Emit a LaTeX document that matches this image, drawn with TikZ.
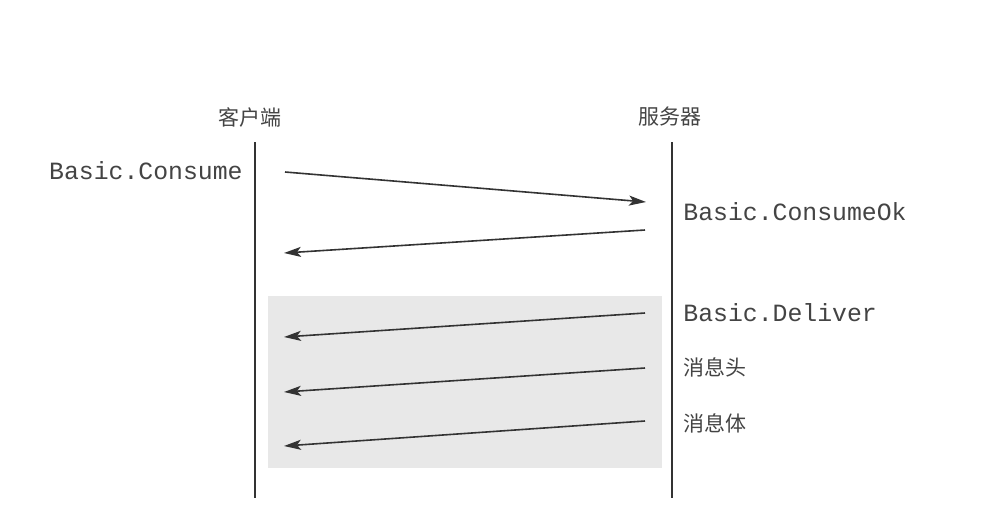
\documentclass[tikz,border=0pt]{standalone}
\usepackage{fontspec}
\setmonofont{Liberation Mono}
\newfontfamily\cjk{Noto Sans CJK SC}
\usetikzlibrary{arrows.meta}
\definecolor{linec}{HTML}{333333}
\definecolor{textc}{HTML}{444444}
\definecolor{boxc}{HTML}{E8E8E8}
\tikzset{
  lifeline/.style={draw=linec, line width=1pt},
  msg/.style={draw=linec, line width=0.8pt, -{Stealth[length=8.5pt,width=5pt,inset=2pt]}},
  monolabel/.style={font=\ttfamily\fontsize{12.4}{14}\selectfont, text=textc, inner sep=0pt},
  cjklabel/.style={font=\cjk\fontsize{10.5}{12}\selectfont, text=textc, inner sep=0pt},
}
\begin{document}
\begin{tikzpicture}[x=0.5pt,y=-0.5pt]
\useasboundingbox[fill=white] (0,0) rectangle (998,516);
% shaded delivery region
\fill[boxc] (268,296) rectangle (662,468);
% lifelines
\coordinate (cTop) at (255,142);
\coordinate (cBot) at (255,498);
\coordinate (sTop) at (672,142);
\coordinate (sBot) at (672,498);
\draw[lifeline] (cTop) -- (cBot);
\draw[lifeline] (sTop) -- (sBot);
% headers
\node[cjklabel] (client) at (250,117) {客户端};
\node[cjklabel] (server) at (670,117) {服务器};
% message labels
\node[monolabel, anchor=east] (consume) at (243,171) {Basic.Consume};
\node[monolabel, anchor=west] (consumeok) at (683,212) {Basic.ConsumeOk};
\node[monolabel, anchor=west] (deliver) at (683,313) {Basic.Deliver};
\node[cjklabel, anchor=west] (head) at (683,367) {消息头};
\node[cjklabel, anchor=west] (body) at (683,423) {消息体};
% arrow end points
\coordinate (a1s) at (285,172); \coordinate (a1e) at (646,202);
\coordinate (a2s) at (645,230); \coordinate (a2e) at (284,253);
\coordinate (a3s) at (645,313); \coordinate (a3e) at (284,337);
\coordinate (a4s) at (645,368); \coordinate (a4e) at (284,392);
\coordinate (a5s) at (645,421); \coordinate (a5e) at (284,446);
\draw[msg] (a1s) -- (a1e);
\draw[msg] (a2s) -- (a2e);
\draw[msg] (a3s) -- (a3e);
\draw[msg] (a4s) -- (a4e);
\draw[msg] (a5s) -- (a5e);
\end{tikzpicture}
\end{document}
